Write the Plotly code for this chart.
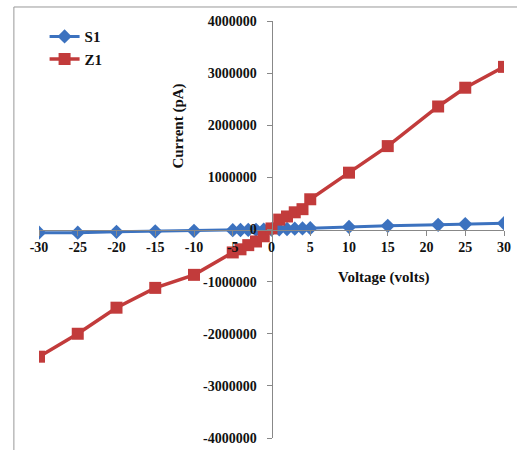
import plotly.graph_objects as go

voltage = [-30, -25, -20, -15, -10, -5, -4, -3, -2, -1, 0, 1, 2, 3, 4, 5, 10, 15, 21.5, 25, 30]
s1_current = [-60000, -60000, -45000, -35000, -25000, -12000, -10000, -8000, -6000, -3000, 0,
              5000, 10000, 15000, 20000, 25000, 50000, 70000, 90000, 105000, 120000]
z1_current = [-2440000, -2000000, -1500000, -1120000, -870000, -440000, -380000, -300000, -230000,
              -130000, 20000, 190000, 250000, 330000, 390000, 580000, 1090000, 1600000, 2360000,
              2720000, 3120000]
x_ticks = [-30, -25, -20, -15, -10, -5, 0, 5, 10, 15, 20, 25, 30]
y_ticks = [-4000000, -3000000, -2000000, -1000000, 0, 1000000, 2000000, 3000000, 4000000]

BLUE = "#3C72BF"
RED = "#C23B3B"
FONT = "'Liberation Serif', 'Times New Roman', serif"

fig = go.Figure()
fig.add_trace(go.Scatter(x=voltage, y=s1_current, name="S1", mode="lines+markers",
                         line=dict(color=BLUE, width=3),
                         marker=dict(symbol="diamond", size=11, color=BLUE)))
fig.add_trace(go.Scatter(x=voltage, y=z1_current, name="Z1", mode="lines+markers",
                         line=dict(color=RED, width=3.5),
                         marker=dict(symbol="square", size=12, color=RED)))

axis_common = dict(showgrid=False, zeroline=False, showline=True, linecolor="#888888",
                   linewidth=1, ticks="outside", ticklen=5, tickcolor="#888888",
                   automargin=False,
                   tickfont=dict(family=FONT, size=14, color="#111111", weight="bold"))

fig.update_layout(
    width=517, height=450,
    margin=dict(l=39, r=13, t=21, b=12),
    paper_bgcolor="white", plot_bgcolor="white",
    showlegend=True,
    legend=dict(x=0.012, y=1.002, xanchor="left", yanchor="top",
                font=dict(family=FONT, size=15, color="#111111", weight="bold"),
                bgcolor="rgba(0,0,0,0)", itemwidth=30, tracegroupgap=0),
    xaxis=dict(range=[-30, 30], tickvals=x_ticks, ticktext=[str(v) for v in x_ticks],
               anchor="free", position=0.5, **axis_common),
    yaxis=dict(range=[-4000000, 4000000], tickvals=y_ticks,
               ticktext=[str(v) + "\u00a0\u00a0" for v in y_ticks],
               anchor="free", position=0.5, **axis_common),
    annotations=[
        dict(text="<b>Current (pA)</b>", textangle=-90, x=0.300, y=0.748, xref="paper", yref="paper",
             xanchor="center", yanchor="middle",
             showarrow=False, font=dict(family=FONT, size=15, color="#111111")),
        dict(text="<b>Voltage (volts)</b>", x=0.741, y=0.384, xref="paper", yref="paper",
             xanchor="center", yanchor="middle",
             showarrow=False, font=dict(family=FONT, size=15, color="#111111")),
    ],
    shapes=[dict(type="rect", xref="paper", yref="paper", x0=-0.054, x1=1.2, y0=-0.2, y1=1.0336,
                 line=dict(color="#999999", width=1), fillcolor="rgba(0,0,0,0)", layer="below")],
)

fig.write_html("out.html")
